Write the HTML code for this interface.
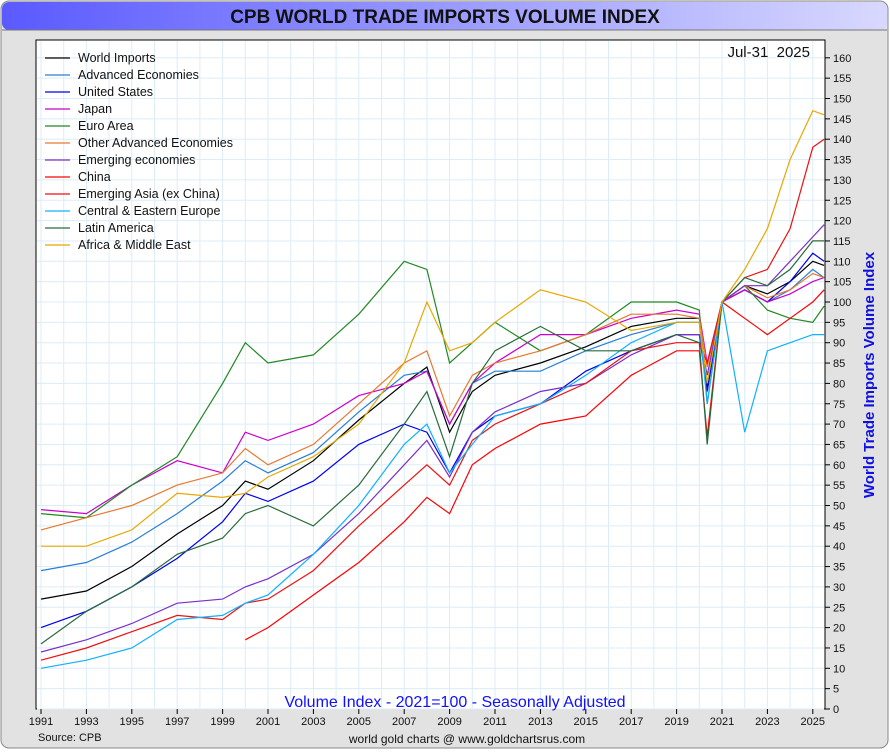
<!DOCTYPE html>
<html><head><meta charset="utf-8"><style>
body{margin:0;width:890px;height:750px;background:#fff;font-family:"Liberation Sans",sans-serif;overflow:hidden}
</style></head><body>
<svg id="c" width="890" height="750" xmlns="http://www.w3.org/2000/svg">
<defs><linearGradient id="tg" x1="0" x2="1"><stop offset="0" stop-color="#5a5aff"/><stop offset="1" stop-color="#d8d8ff"/></linearGradient></defs>
<rect x="1" y="1" width="887" height="747" rx="8" fill="#e2e2e2" stroke="#888"/>
<rect x="2" y="2" width="885" height="28" rx="7" fill="url(#tg)"/>
<line x1="2" y1="30" x2="887" y2="30" stroke="#777"/>
<text x="445" y="23" text-anchor="middle" font-size="19" font-weight="bold" fill="#111">CPB WORLD TRADE IMPORTS VOLUME INDEX</text>
<rect x="36" y="40" width="789" height="669" fill="#fff" stroke="#000"/>
<g id="grid"></g><g id="series"></g><g id="axes"></g>
<text x="810" y="57" text-anchor="end" font-size="15" fill="#111" style="white-space:pre">Jul-31  2025</text>
<text x="455" y="707" text-anchor="middle" font-size="16" fill="#1010ff">Volume Index - 2021=100 - Seasonally Adjusted</text>
<text x="38" y="741" font-size="11" fill="#111">Source: CPB</text>
<text x="467" y="743" text-anchor="middle" font-size="12" fill="#111">world gold charts @ www.goldchartsrus.com</text>
<text transform="translate(874,375) rotate(-90)" text-anchor="middle" font-size="15" font-weight="bold" fill="#1010e0">World Trade Imports Volume Index</text>
<g id="legend"></g>
</svg>
<script>
const years=[1991,1993,1995,1997,1999,2000,2001,2003,2005,2007,2008,2009,2010,2011,2013,2015,2017,2019,2020.0,2020.35,2021,2022,2023,2024,2025,2025.5];
const seriesNames=["World Imports","Advanced Economies","United States","Japan","Euro Area","Other Advanced Economies","Emerging economies","China","Emerging Asia (ex China)","Central & Eastern Europe","Latin America","Africa & Middle East"];
const colors=["#000000","#2a7fd4","#0000ee","#cc00cc","#228822","#e87830","#7a30c8","#ff0000","#ee1111","#10b0ff","#2a6a3a","#e8a800"];
const sWorld=[27,29,35,43,50,56,54,61,71,80,84,68,78,82,85,89,94,96,96,79,100,104,102,105,110,109];
const sAdv=[34,36,41,48,56,61,58,63,73,82,83,70,80,83,83,88,92,95,95,80,100,103,100,103,108,106];
const sUS=[20,24,30,37,46,53,51,56,65,70,68,58,68,72,75,83,88,92,92,78,100,103,100,105,112,110];
const sJapan=[49,48,55,61,58,68,66,70,77,80,83,70,80,85,92,92,96,98,97,85,100,103,100,102,105,106];
const sEuro=[48,47,55,62,80,90,85,87,97,110,108,85,90,95,88,92,100,100,98,75,100,104,98,96,95,99];
const sOther=[44,47,50,55,58,64,60,65,75,85,88,72,82,85,88,92,97,97,96,84,100,104,101,103,107,106];
const sEmerg=[14,17,21,26,27,30,32,38,48,60,66,57,68,73,78,80,87,92,92,82,100,104,104,110,116,119];
const sChina=[null,null,null,null,null,17,20,28,36,46,52,48,60,64,70,72,82,88,88,67,100,96,92,96,100,103];
const sAsia=[12,15,19,23,22,26,27,34,45,55,60,55,66,70,75,80,88,90,90,85,100,106,108,118,138,140];
const sCEE=[10,12,15,22,23,26,28,38,50,65,70,58,65,72,75,82,90,95,95,75,100,68,88,90,92,92];
const sLatam=[16,24,30,38,42,48,50,45,55,70,78,62,80,88,94,88,88,92,90,65,100,106,104,108,115,115];
const sAfrica=[40,40,44,53,52,53,57,62,70,85,100,88,90,95,103,100,93,95,95,80,100,108,118,135,147,146];
const allSeries=[sWorld,sAdv,sUS,sJapan,sEuro,sOther,sEmerg,sChina,sAsia,sCEE,sLatam,sAfrica];
const yTicks=[0,5,10,15,20,25,30,35,40,45,50,55,60,65,70,75,80,85,90,95,100,105,110,115,120,125,130,135,140,145,150,155,160];
const xTicks=[1991,1993,1995,1997,1999,2001,2003,2005,2007,2009,2011,2013,2015,2017,2019,2021,2023,2025];
const NS="http://www.w3.org/2000/svg";
const X=y=>41+(y-1991)*22.7;
const Y=v=>709-v*4.07;
function mk(t,a,p){const e=document.createElementNS(NS,t);for(const k in a)e.setAttribute(k,a[k]);p.appendChild(e);return e;}
const grid=document.getElementById('grid'),axes=document.getElementById('axes'),ser=document.getElementById('series'),leg=document.getElementById('legend');
for(let yr=1991;yr<=2025;yr++){const l=mk('line',{x1:X(yr),x2:X(yr),y1:41,y2:708,stroke:'#dcecf8'},grid);}
yTicks.forEach(v=>{const l=mk('line',{x1:37,x2:824,y1:Y(v),y2:Y(v),stroke:'#dcecf8'},grid);
 mk('line',{x1:825,x2:830,y1:Y(v),y2:Y(v),stroke:'#000'},axes);
 const t=mk('text',{x:833,y:Y(v)+4,'font-size':11,fill:'#111'},axes);t.textContent=v;});
xTicks.forEach(v=>{mk('line',{x1:X(v),x2:X(v),y1:709,y2:714,stroke:'#000'},axes);
 const t=mk('text',{x:X(v),y:725,'font-size':11,'text-anchor':'middle',fill:'#111'},axes);t.textContent=v;});
allSeries.forEach((s,i)=>{let d='',pen=false;s.forEach((v,j)=>{if(v==null){pen=false;return;}d+=(pen?'L':'M')+X(years[j]).toFixed(1)+','+Y(v).toFixed(1);pen=true;});
 const p=mk('path',{d:d,fill:'none',stroke:colors[i],'stroke-width':1.2},ser);
 
 
 const ly=58+i*17;
 const g=mk('g',{},leg);
 
 
 mk('line',{x1:45,x2:70,y1:ly,y2:ly,stroke:colors[i],'stroke-width':1.3},g);
 const t=mk('text',{x:78,y:ly+4,'font-size':12.5,fill:'#111'},g);t.textContent=seriesNames[i];});
</script>
</body></html>
